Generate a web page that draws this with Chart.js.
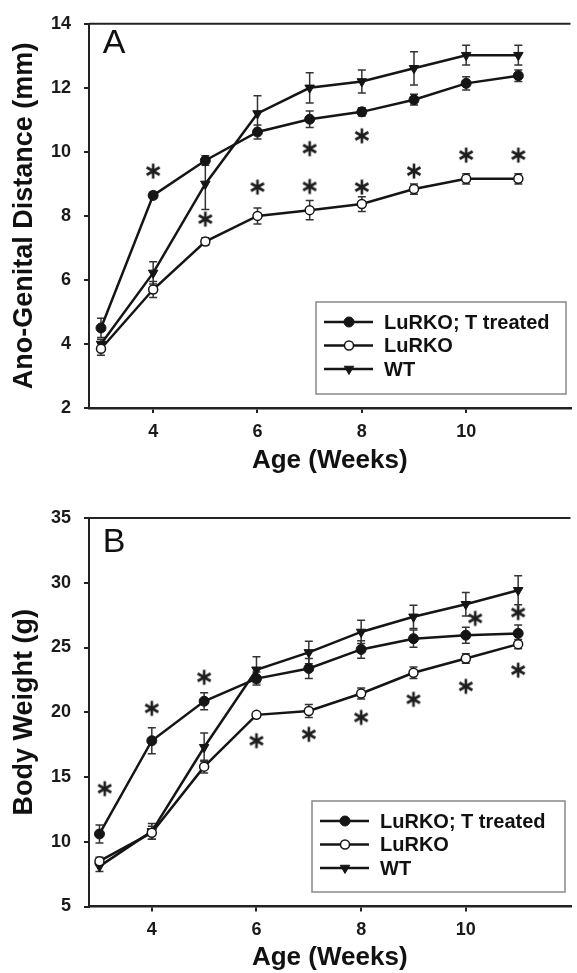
<!DOCTYPE html>
<html>
<head>
<meta charset="utf-8">
<script src="https://cdn.jsdelivr.net/npm/chart.js@4.4.1/dist/chart.umd.min.js"></script>
<style>
  html, body { margin: 0; padding: 0; background: #fff; overflow: hidden; }
  .panel { position: absolute; left: 0; width: 577px; }
  #wrapA { top: 0; height: 480px; }
  #wrapB { top: 480px; height: 493px; }
</style>
</head>
<body>
<div class="panel" id="wrapA"><canvas id="chartA" width="577" height="480"></canvas></div>
<div class="panel" id="wrapB"><canvas id="chartB" width="577" height="493"></canvas></div>
<script>
const weeks = [3, 4, 5, 6, 7, 8, 9, 10, 11];
const xTickValues = [4, 6, 8, 10];
const seriesNames = ['LuRKO; T treated', 'LuRKO', 'WT'];

// panel A - ano-genital distance (mm)
const agdTreated = [4.5, 8.64, 9.73, 10.62, 11.02, 11.25, 11.63, 12.14, 12.38];
const agdTreatedErr = [0.3, 0.1, 0.15, 0.22, 0.26, 0.13, 0.17, 0.21, 0.18];
const agdLurko = [3.85, 5.7, 7.2, 8.0, 8.18, 8.37, 8.84, 9.16, 9.16];
const agdLurkoErr = [0.2, 0.25, 0.12, 0.25, 0.3, 0.23, 0.16, 0.16, 0.16];
const agdWT = [4.0, 6.22, 9.0, 11.2, 12.0, 12.2, 12.61, 13.02, 13.02];
const agdWTErr = [0.15, 0.35, 0.8, 0.55, 0.47, 0.36, 0.52, 0.31, 0.31];
const agdStarX = [4, 5, 6, 7, 7, 8, 8, 9, 10, 11];
const agdStarY = [9.4, 7.9, 8.9, 8.92, 10.1, 8.9, 10.5, 9.4, 9.9, 9.9];
const agdTicks = [2, 4, 6, 8, 10, 12, 14];

// panel B - body weight (g)
const bwTreated = [10.6, 17.8, 20.85, 22.6, 23.38, 24.85, 25.68, 25.95, 26.09];
const bwTreatedErr = [0.7, 1.0, 0.65, 0.5, 0.77, 0.68, 0.67, 0.62, 0.64];
const bwLurko = [8.5, 10.7, 15.8, 19.8, 20.1, 21.45, 23.05, 24.15, 25.26];
const bwLurkoErr = [0.3, 0.5, 0.5, 0.2, 0.5, 0.43, 0.45, 0.36, 0.36];
const bwWT = [8.1, 10.8, 17.3, 23.28, 24.62, 26.2, 27.37, 28.34, 29.42];
const bwWTErr = [0.4, 0.6, 1.1, 1.0, 0.87, 0.9, 0.9, 0.9, 1.12];
const bwStarX = [3.1, 4, 5, 6, 7, 8, 9, 10, 10.18, 11, 11];
const bwStarY = [14.1, 20.3, 22.7, 17.8, 18.3, 19.6, 21.0, 22.0, 27.25, 23.25, 27.7];
const bwTicks = [5, 10, 15, 20, 25, 30, 35];

const INK = '#151515';
const FONT = "'Liberation Sans', Arial, sans-serif";

// asterisk marker
const star = document.createElement('canvas');
star.width = 18; star.height = 18;
(function () {
  const c = star.getContext('2d');
  c.strokeStyle = '#1e1e1e';
  c.lineWidth = 2.6;
  [90, 30, 150].forEach(function (deg) {
    const a = deg * Math.PI / 180;
    c.beginPath();
    c.moveTo(9 - Math.cos(a) * 7.5, 9 - Math.sin(a) * 7.5);
    c.lineTo(9 + Math.cos(a) * 7.5, 9 + Math.sin(a) * 7.5);
    c.stroke();
  });
})();

function pts(xs, ys) {
  return xs.map(function (x, i) { return { x: x, y: ys[i] }; });
}

const errorBars = {
  id: 'errorBars',
  beforeDatasetsDraw(chart) {
    const ctx = chart.ctx;
    const xs = chart.scales.x, ys = chart.scales.y;
    ctx.save();
    ctx.strokeStyle = '#333';
    ctx.lineWidth = 1.5;
    chart.data.datasets.forEach(function (ds) {
      if (!ds.errors) return;
      ds.data.forEach(function (p, i) {
        const x = xs.getPixelForValue(p.x);
        const y1 = ys.getPixelForValue(p.y - ds.errors[i]);
        const y2 = ys.getPixelForValue(p.y + ds.errors[i]);
        ctx.beginPath();
        ctx.moveTo(x, y1); ctx.lineTo(x, y2);
        ctx.moveTo(x - 4, y1); ctx.lineTo(x + 4, y1);
        ctx.moveTo(x - 4, y2); ctx.lineTo(x + 4, y2);
        ctx.stroke();
      });
    });
    ctx.restore();
  }
};

const decorations = {
  id: 'decorations',
  afterDraw(chart, args, opts) {
    const ctx = chart.ctx;
    const area = chart.chartArea;
    ctx.save();
    // top frame line
    ctx.strokeStyle = '#222';
    ctx.lineWidth = 2;
    ctx.beginPath();
    ctx.moveTo(area.left, area.top);
    ctx.lineTo(area.right, area.top);
    ctx.stroke();
    // panel letter
    ctx.fillStyle = '#111';
    ctx.font = '34px ' + FONT;
    ctx.textAlign = 'center';
    ctx.textBaseline = 'middle';
    ctx.fillText(opts.letter, area.left + 25, area.top + opts.letterDy);
    // legend box
    const b = opts.box;
    ctx.fillStyle = '#fff';
    ctx.fillRect(b.left, b.top, b.right - b.left, b.bottom - b.top);
    ctx.strokeStyle = '#888';
    ctx.lineWidth = 1.5;
    ctx.strokeRect(b.left, b.top, b.right - b.left, b.bottom - b.top);
    ctx.font = 'bold 20px ' + FONT;
    ctx.textAlign = 'left';
    chart.data.datasets.forEach(function (ds, i) {
      if (!ds.inLegend) return;
      const y = b.top + 20 + i * 23.5;
      ctx.strokeStyle = INK;
      ctx.lineWidth = 2.5;
      ctx.beginPath();
      ctx.moveTo(b.left + 8, y);
      ctx.lineTo(b.left + 57, y);
      ctx.stroke();
      ctx.fillStyle = ds.pointBackgroundColor;
      ctx.strokeStyle = ds.pointBorderColor;
      ctx.lineWidth = ds.pointBorderWidth;
      Chart.helpers.drawPoint(ctx, {
        pointStyle: ds.pointStyle, radius: ds.pointRadius,
        rotation: ds.pointRotation || 0, borderWidth: ds.pointBorderWidth
      }, b.left + 33, y);
      ctx.fillStyle = '#111';
      ctx.fillText(ds.label, b.left + 68, y + 1);
    });
    ctx.restore();
  }
};

function makePanel(id, cfg) {
  const lineStyle = { borderColor: INK, borderWidth: 2.5, tension: 0, inLegend: true };
  return new Chart(document.getElementById(id), {
    type: 'line',
    data: {
      datasets: [
        Object.assign({
          label: seriesNames[0], data: pts(weeks, cfg.treated), errors: cfg.treatedErr,
          pointStyle: 'circle', pointRadius: 5, pointBackgroundColor: INK,
          pointBorderColor: INK, pointBorderWidth: 1
        }, lineStyle),
        Object.assign({
          label: seriesNames[1], data: pts(weeks, cfg.lurko), errors: cfg.lurkoErr,
          pointStyle: 'circle', pointRadius: 4.5, pointBackgroundColor: '#fff',
          pointBorderColor: INK, pointBorderWidth: 1.5
        }, lineStyle),
        Object.assign({
          label: seriesNames[2], data: pts(weeks, cfg.wt), errors: cfg.wtErr,
          pointStyle: 'triangle', pointRotation: 180, pointRadius: 5.5,
          pointBackgroundColor: INK, pointBorderColor: INK, pointBorderWidth: 1
        }, lineStyle),
        {
          type: 'scatter', label: 'p', data: pts(cfg.starX, cfg.starY),
          showLine: false, pointStyle: star, inLegend: false
        }
      ]
    },
    options: {
      responsive: false,
      animation: false,
      devicePixelRatio: 1,
      layout: { padding: { top: cfg.top, left: 0, right: 0, bottom: 0 } },
      plugins: {
        legend: { display: false },
        tooltip: { enabled: false },
        decorations: { letter: cfg.letter, letterDy: cfg.letterDy, box: cfg.box }
      },
      scales: {
        x: {
          type: 'linear', min: cfg.xMin, max: 12,
          afterBuildTicks: function (s) { s.ticks = xTickValues.map(function (v) { return { value: v }; }); },
          afterFit: function (s) { s.height = cfg.xHeight; },
          border: { display: true, color: '#222', width: 2.5 },
          grid: { drawOnChartArea: false, drawTicks: true, tickLength: 5, color: '#222', lineWidth: 2 },
          ticks: { color: '#1a1a1a', padding: 8, font: { family: FONT, size: 18, weight: 'bold' } },
          title: {
            display: true, text: 'Age (Weeks)', color: '#111',
            padding: { top: 0, bottom: cfg.xTitlePad }, font: { family: FONT, size: 26, weight: 'bold' }
          }
        },
        y: {
          min: cfg.yTicks[0], max: cfg.yTicks[cfg.yTicks.length - 1],
          afterBuildTicks: function (s) { s.ticks = cfg.yTicks.map(function (v) { return { value: v }; }); },
          afterFit: function (s) { s.width = 89; },
          border: { display: true, color: '#222', width: 2 },
          grid: { drawOnChartArea: false, drawTicks: true, tickLength: 5, color: '#222', lineWidth: 2 },
          ticks: { color: '#1a1a1a', padding: 13, font: { family: FONT, size: 18, weight: 'bold' } },
          title: {
            display: true, text: cfg.yTitle, color: '#111',
            padding: { top: 8, bottom: 0 }, font: { family: FONT, size: 27, weight: 'bold' }
          }
        }
      }
    },
    plugins: [errorBars, decorations]
  });
}

makePanel('chartA', {
  treated: agdTreated, treatedErr: agdTreatedErr,
  lurko: agdLurko, lurkoErr: agdLurkoErr,
  wt: agdWT, wtErr: agdWTErr,
  starX: agdStarX, starY: agdStarY,
  yTicks: agdTicks, yTitle: 'Ano-Genital Distance (mm)',
  xMin: 2.77, top: 22, xHeight: 72, xTitlePad: 4,
  letter: 'A', letterDy: 20,
  box: { left: 316, top: 302, right: 566, bottom: 394 }
});

makePanel('chartB', {
  treated: bwTreated, treatedErr: bwTreatedErr,
  lurko: bwLurko, lurkoErr: bwLurkoErr,
  wt: bwWT, wtErr: bwWTErr,
  starX: bwStarX, starY: bwStarY,
  yTicks: bwTicks, yTitle: 'Body Weight (g)',
  xMin: 2.8, top: 38, xHeight: 66.5, xTitlePad: 0,
  letter: 'B', letterDy: 24.5,
  box: { left: 312, top: 321, right: 565, bottom: 412 }
});
</script>
</body>
</html>
